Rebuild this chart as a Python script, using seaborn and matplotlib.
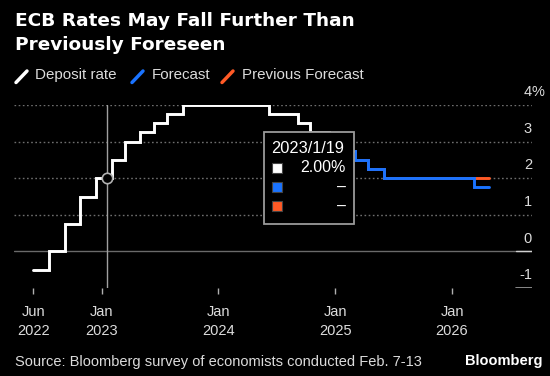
import numpy as np
import pandas as pd
import seaborn as sns
import matplotlib.pyplot as plt
from matplotlib.patches import Rectangle
from matplotlib.lines import Line2D

# deposit rate history (step changes), last point repeated to close the step
dep_dates = ["2022-06-01", "2022-07-20", "2022-09-07", "2022-10-25", "2022-12-15",
             "2023-02-01", "2023-03-14", "2023-05-02", "2023-06-14", "2023-07-26",
             "2023-09-13", "2024-06-06", "2024-09-06", "2024-10-13", "2024-12-11",
             "2025-01-29", "2025-02-26"]
dep_rates = [-0.5, 0.0, 0.75, 1.5, 2.0, 2.5, 3.0, 3.25, 3.5, 3.75, 4.0,
             3.75, 3.5, 3.25, 3.0, 2.75, 2.75]

# survey forecast vs previous forecast
fc_dates = ["2025-02-26", "2025-03-04", "2025-04-12", "2025-06-01", "2026-03-12", "2026-04-28"]
fc_rates = [2.75, 2.5, 2.25, 2.0, 1.75, 1.75]
prev_rates = [2.75, 2.5, 2.25, 2.0, 2.0, 2.0]

tick_dates = ["2022-06-01", "2023-01-01", "2024-01-01", "2025-01-01", "2026-01-01"]
tick_labels = ["Jun\n2022", "Jan\n2023", "Jan\n2024", "Jan\n2025", "Jan\n2026"]
y_levels = [-1, 0, 1, 2, 3, 4]

cursor_date = "2023-01-19"
cursor_value = 2.0

WHITE = "#ffffff"
BLUE = "#1a73ff"
ORANGE = "#ff5a26"
TXT = "#dcdcdc"

dep = pd.DataFrame({"date": pd.to_datetime(dep_dates), "rate": dep_rates})
fc = pd.DataFrame({"date": pd.to_datetime(fc_dates), "rate": fc_rates})
prev = pd.DataFrame({"date": pd.to_datetime(fc_dates), "rate": prev_rates})

sns.set_theme(style="dark")
plt.rcParams["font.family"] = ["Liberation Sans", "DejaVu Sans"]

W, H = 550, 376
fig = plt.figure(figsize=(W / 100, H / 100), dpi=100, facecolor="black")
ax = fig.add_axes([14 / W, 1 - 288 / H, (532 - 14) / W, (288 - 105) / H])
ax.set_facecolor("black")
for s in ax.spines.values():
    s.set_visible(False)


def fx(x):
    return x / W


def fy(y):
    return 1 - y / H


# gridlines
for v in [1, 2, 3, 4]:
    ax.axhline(v, color="#6e6e6e", lw=1, linestyle=(0, (1.2, 1.8)), zorder=1)
ax.axhline(0, color="#6a6a6a", lw=1, zorder=1)
ax.axhline(0, xmin=(516 - 14) / 518, xmax=1, color="#d0d0d0", lw=1, zorder=1)
ax.axhline(-1, xmin=(516 - 14) / 518, xmax=1, color="#a0a0a0", lw=1.2, zorder=1)

# cursor
ax.axvline(pd.Timestamp(cursor_date), color="#a0a0a0", lw=1, zorder=2)

sns.lineplot(data=prev, x="date", y="rate", ax=ax, color=ORANGE, lw=2.1,
             drawstyle="steps-post", solid_joinstyle="miter", zorder=3)
sns.lineplot(data=fc, x="date", y="rate", ax=ax, color=BLUE, lw=2.1,
             drawstyle="steps-post", solid_joinstyle="miter", zorder=4)
sns.lineplot(data=dep, x="date", y="rate", ax=ax, color=WHITE, lw=2.1,
             drawstyle="steps-post", solid_joinstyle="miter", zorder=5)
ax.plot(pd.Timestamp(cursor_date), cursor_value, "o", mfc="black", mec="#b0b0b0",
        ms=7.5, mew=1.2, zorder=6)

ax.set_xlim(pd.Timestamp("2022-04-02"), pd.Timestamp("2026-09-08"))
ax.set_ylim(-1, 4)
ax.set_xlabel("")
ax.set_ylabel("")
ax.set_yticks([])
ax.set_xticks(pd.to_datetime(tick_dates))
ax.set_xticklabels(tick_labels)
ax.tick_params(axis="x", bottom=True, length=4, width=1, color="#b0b0b0",
               direction="out", pad=8, labelcolor=TXT, labelsize=10.5)
for t in ax.get_xticklabels():
    t.set_linespacing(1.45)

# y labels sit above their gridlines, right side
for v in y_levels:
    ax.annotate(str(v), xy=(1, v), xycoords=("axes fraction", "data"),
                xytext=(0, 6.3), textcoords="offset points", ha="right",
                va="baseline", color=TXT, fontsize=10.5, annotation_clip=False)
ax.annotate("%", xy=(1, 4), xycoords=("axes fraction", "data"),
            xytext=(0, 6.3), textcoords="offset points", ha="left",
            va="baseline", color=TXT, fontsize=10.5, annotation_clip=False)

# title
for line, yc in [("ECB Rates May Fall Further Than", 21), ("Previously Foreseen", 45)]:
    fig.text(fx(15), fy(yc), line, color="white", fontsize=13.3,
             fontweight="bold", family="DejaVu Sans", va="center", ha="left")

# legend
legend_items = [("Deposit rate", WHITE, 16, 35), ("Forecast", BLUE, 132, 152),
                ("Previous Forecast", ORANGE, 222, 242)]
for name, col, x0, xt in legend_items:
    fig.add_artist(Line2D([fx(x0), fx(x0 + 11)], [fy(82.5), fy(71)], color=col,
                          lw=2.5, solid_capstyle="round"))
    fig.text(fx(xt), fy(75), name, color=TXT, fontsize=10.9, va="center", ha="left")

# tooltip
fig.add_artist(Rectangle((fx(263.5), fy(224)), fx(354) - fx(263.5), fy(132) - fy(224),
                         transform=fig.transFigure, facecolor="black",
                         edgecolor="#9a9a9a", lw=1.3, zorder=10))
fig.text(fx(271), fy(148.5), "2023/1/19", color="white", fontsize=11.8,
         va="center", ha="left", zorder=11)
rows = [(WHITE, "2.00%", 168), (BLUE, "–", 187), (ORANGE, "–", 206)]
for col, val, yc in rows:
    fig.add_artist(Rectangle((fx(272), fy(yc + 5)), fx(10), fy(yc - 5) - fy(yc + 5),
                             transform=fig.transFigure, facecolor=col,
                             edgecolor="#444444", lw=0.8, zorder=11))
    fig.text(fx(346), fy(yc), val, color="white", fontsize=11.5,
             va="center", ha="right", zorder=11)

# footer
fig.text(fx(15), fy(362), "Source: Bloomberg survey of economists conducted Feb. 7-13",
         color=TXT, fontsize=10.5, va="center", ha="left")
fig.text(fx(543), fy(361), "Bloomberg", color="white", fontsize=10.5,
         fontweight="bold", va="center", ha="right")

fig.savefig("out.png", dpi=100, facecolor="black")
